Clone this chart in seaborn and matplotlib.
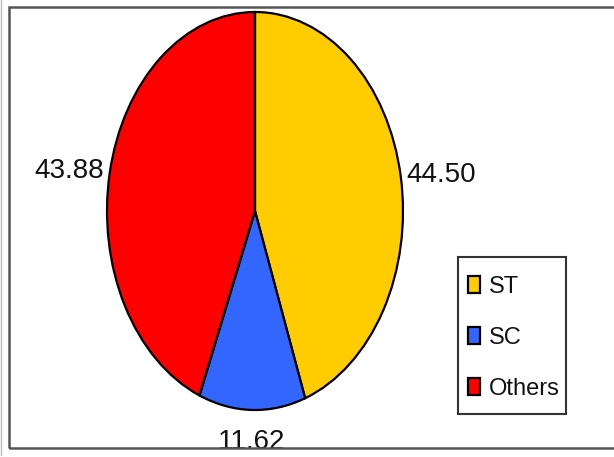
import numpy as np
import matplotlib
matplotlib.use("Agg")
import matplotlib.pyplot as plt
from matplotlib.patches import Rectangle
from matplotlib.lines import Line2D
import seaborn as sns

# Share of each group (%)
categories = ["ST", "SC", "Others"]
shares = [44.50, 11.62, 43.88]
colors = ["#FFCC00", "#3366FF", "#FF0000"]

sns.set_theme(style="white")
plt.rcParams["font.family"] = ["Liberation Sans", "DejaVu Sans"]

W, H = 614, 457
fig = plt.figure(figsize=(W / 100, H / 100), dpi=100)
fig.patch.set_facecolor("white")

# Pie geometry in pixels (centre and semi-axes of the elliptical pie)
cx, cy = 255, H - 211
rx, ry = 148, 199
xlim, ylim = 1.5, 1.05
ax = fig.add_axes([(cx - xlim * rx) / W, (cy - ylim * ry) / H,
                   2 * xlim * rx / W, 2 * ylim * ry / H])

wedges, _ = ax.pie(shares, colors=colors, startangle=90, counterclock=False,
                   wedgeprops=dict(edgecolor="black", linewidth=1.6))
ax.set_aspect("auto")
ax.set_xlim(-xlim, xlim)
ax.set_ylim(-ylim, ylim)
ax.axis("off")

# Value labels just outside each wedge
for w, val in zip(wedges, shares):
    ang = np.deg2rad((w.theta1 + w.theta2) / 2)
    x, y = np.cos(ang), np.sin(ang)
    ha = "left" if x > 0.3 else ("right" if x < -0.3 else "center")
    va = "top" if y < -0.7 else "center"
    r = 1.095 if va == "top" else 1.04
    ax.text(r * x, r * y, f"{val:.2f}", ha=ha, va=va, fontsize=20,
            color="#111111", zorder=1)

# Legend entries, boxed by a plain rectangle
leg = fig.legend(wedges, categories, loc="upper left",
                 bbox_to_anchor=(468 / W, 1 - 276 / H), bbox_transform=fig.transFigure,
                 borderaxespad=0, borderpad=0, frameon=False,
                 fontsize=17, handlelength=0.52, handleheight=0.7, handletextpad=0.38,
                 labelspacing=1.22)
for t in leg.get_texts():
    t.set_color("#111111")
fig.patches.append(Rectangle((458 / W, (H - 414) / H), (566 - 458) / W, (414 - 257) / H,
                             transform=fig.transFigure, fill=False,
                             edgecolor="#333333", linewidth=1.5, zorder=3))

# Outer frame
fig.patches.append(Rectangle((9 / W, (H - 448) / H), (W + 20) / W, (448 - 7) / H,
                             transform=fig.transFigure, fill=False,
                             edgecolor="#555555", linewidth=1.8, zorder=3))
fig.lines.append(Line2D([1.5 / W, 1.5 / W], [(H - 455) / H, 1], transform=fig.transFigure,
                        color="#bbbbbb", linewidth=1.0))

fig.savefig("out.png", dpi=100)
